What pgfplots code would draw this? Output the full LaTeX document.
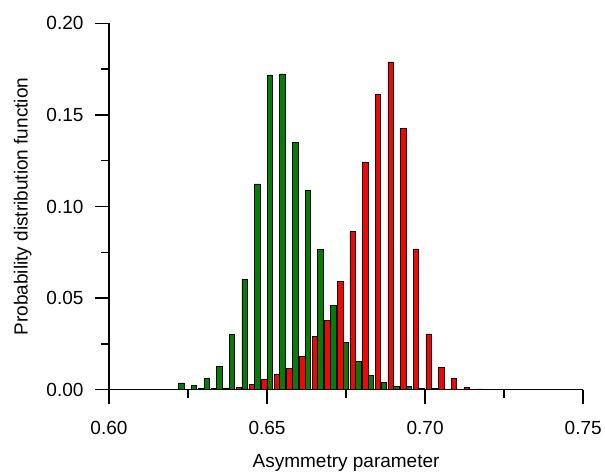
\documentclass[border=0pt]{standalone}
\usepackage{fontspec}
\setmainfont{Liberation Sans}
\usepackage{pgfplots}
\usepackage{pgfplotstable}
\pgfplotsset{compat=1.18}
\definecolor{bargreen}{RGB}{0,128,0}
\definecolor{barred}{RGB}{255,0,0}

\pgfplotstableread{
x y
0.624 0.0038
0.628 0.0023
0.632 0.0060
0.636 0.0129
0.640 0.0304
0.644 0.0604
0.648 0.1124
0.652 0.1718
0.656 0.1724
0.660 0.1349
0.664 0.1089
0.668 0.0764
0.672 0.0462
0.676 0.0258
0.680 0.0153
0.684 0.0080
0.688 0.0042
0.692 0.0020
0.696 0.0020
0.700 0.0009
0.704 0.0009
0.708 0.0003
}\greendata

\pgfplotstableread{
x y
0.624 0.0003
0.628 0.0009
0.632 0.0008
0.636 0.0010
0.640 0.0015
0.644 0.0029
0.648 0.0058
0.652 0.0086
0.656 0.0118
0.660 0.0182
0.664 0.0293
0.668 0.0380
0.672 0.0591
0.676 0.0864
0.680 0.1242
0.684 0.1613
0.688 0.1789
0.692 0.1428
0.696 0.0769
0.700 0.0305
0.704 0.0124
0.708 0.0062
0.712 0.0015
0.716 0.0005
0.720 0.0003
0.724 0.0002
}\reddata

\begin{document}
\begin{tikzpicture}
\begin{axis}[
  name=ax,
  width=474.5pt, height=366.7pt, scale only axis,
  xmin=0.60, xmax=0.75, ymin=0, ymax=0.20,
  axis x line*=bottom, axis y line*=left,
  axis line style={-, line width=1.4pt, black},
  every tick/.style={line width=1.4pt, black},
  tick align=outside,
  major tick length=14pt, minor tick length=8pt,
  xtick={0.60,0.65,0.70,0.75},
  ytick={0,0.05,0.10,0.15,0.20},
  minor x tick num=1, minor y tick num=1,
  scaled ticks=false,
  font=\fontsize{19}{23}\selectfont,
  tick label style={font=\fontsize{19}{23}\selectfont},
  xticklabel style={/pgf/number format/.cd, fixed, fixed zerofill, precision=2, assume math mode=true},
  yticklabel style={/pgf/number format/.cd, fixed, fixed zerofill, precision=2, assume math mode=true},
  xticklabel shift=14pt,
  yticklabel shift=8pt,
  xlabel shift=13pt,
  ylabel shift=8pt,
  xlabel={Asymmetry parameter},
  ylabel={Probability distribution function},
  clip=false,
]
\addplot[ybar, bar width=5.5pt, bar shift=-3.5pt, fill=bargreen, draw=black, line width=0.6pt] table[x=x, y=y] {\greendata};
\addplot[ybar, bar width=5.5pt, bar shift=3.5pt, fill=barred, draw=black, line width=0.6pt] table[x=x, y=y] {\reddata};
\end{axis}
\path (ax.south west) ++(-109pt,-84pt) rectangle ++(605pt,474pt);
\end{tikzpicture}
\end{document}
